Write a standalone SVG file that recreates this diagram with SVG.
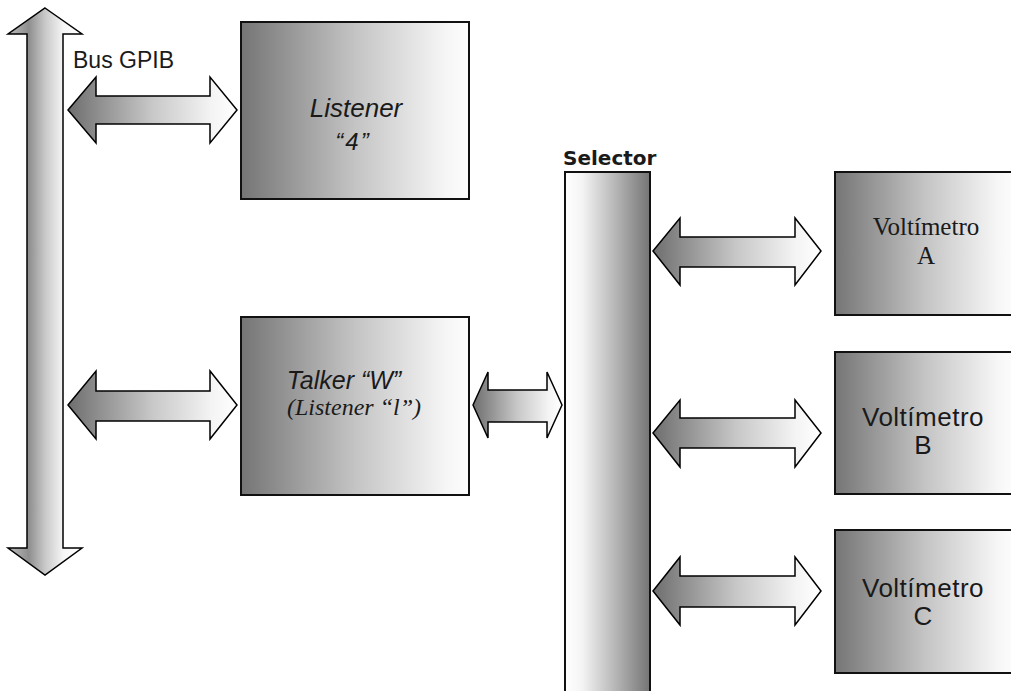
<svg xmlns="http://www.w3.org/2000/svg" width="1011" height="691" viewBox="0 0 1011 691">
<defs>
<linearGradient id="gBox" x1="0" y1="0" x2="1" y2="0">
<stop offset="0" stop-color="#757575"/>
<stop offset="0.5" stop-color="#c4c4c4"/>
<stop offset="0.9" stop-color="#f6f6f6"/>
<stop offset="1" stop-color="#fdfdfd"/>
</linearGradient>
<linearGradient id="gArrow" x1="0" y1="0" x2="1" y2="0">
<stop offset="0" stop-color="#6e6e6e"/>
<stop offset="0.5" stop-color="#c8c8c8"/>
<stop offset="0.85" stop-color="#f4f4f4"/>
<stop offset="1" stop-color="#ffffff"/>
</linearGradient>
<linearGradient id="gBus" x1="0" y1="0" x2="1" y2="0">
<stop offset="0" stop-color="#bdbdbd"/>
<stop offset="0.28" stop-color="#8e8e8e"/>
<stop offset="0.5" stop-color="#c8c8c8"/>
<stop offset="0.75" stop-color="#f6f6f6"/>
<stop offset="1" stop-color="#ffffff"/>
</linearGradient>
<linearGradient id="gSel" x1="0" y1="0" x2="1" y2="0">
<stop offset="0" stop-color="#ffffff"/>
<stop offset="0.2" stop-color="#f4f4f4"/>
<stop offset="0.55" stop-color="#bdbdbd"/>
<stop offset="1" stop-color="#747474"/>
</linearGradient>
</defs>
<style>
.box{stroke:#111;stroke-width:2}
.arr{fill:url(#gArrow);stroke:#000;stroke-width:1.5;stroke-linejoin:miter}
.sans{font-family:"Liberation Sans",Arial,sans-serif;fill:#1a1a1a}
.serif{font-family:"Liberation Serif","Times New Roman",serif;fill:#1a1a1a}
</style>
<g id="connectors">
<polygon id="bus" points="45,8 82,34 63,34 63,548 82,548 45,575 8,548 27,548 27,34 8,34" fill="url(#gBus)" stroke="#000" stroke-width="1.5"/>
<polygon class="arr" points="68,110 96,77 96,96 210,96 210,77 237,110 210,143 210,124 96,124 96,143"/>
<polygon class="arr" points="68,405 96,371 96,391 210,391 210,371 237,405 210,439 210,421 96,421 96,439"/>
<polygon class="arr" points="473,405 488,372 488,390 547,390 547,372 562,405 547,438 547,422 488,422 488,438"/>
<polygon class="arr" points="653,251 680,218 680,237 795,237 795,218 821,251 795,285 795,267 680,267 680,285"/>
<polygon class="arr" points="653,433 680,400 680,418 795,418 795,400 821,433 795,467 795,448 680,448 680,467"/>
<polygon class="arr" points="653,591 680,557 680,576 795,576 795,557 821,591 795,625 795,607 680,607 680,625"/>
</g>
<g id="bus-label"><text class="sans" x="73" y="68" font-size="23">Bus GPIB</text></g>
<g id="listener">
<rect class="box" x="241" y="22" width="228" height="177" fill="url(#gBox)"/>
<text class="sans" x="356" y="117" font-size="26" font-style="italic" text-anchor="middle">Listener</text>
<text class="sans" x="353" y="150" font-size="24" font-style="italic" text-anchor="middle" letter-spacing="2">“4”</text>
</g>
<g id="talker">
<rect class="box" x="241" y="317" width="228" height="178" fill="url(#gBox)"/>
<text class="sans" x="344" y="389" font-size="25" font-style="italic" text-anchor="middle">Talker “W”</text>
<text class="serif" x="354" y="415" font-size="24" font-style="italic" text-anchor="middle">(Listener “l”)</text>
</g>
<g id="selector">
<rect class="box" x="565" y="172" width="85" height="525" fill="url(#gSel)"/>
<text x="563" y="165" font-size="20" font-weight="bold" font-family="DejaVu Sans,sans-serif" fill="#1a1a1a">Selector</text>
</g>
<g id="voltA">
<rect class="box" x="835" y="172" width="180" height="143" fill="url(#gBox)"/>
<text class="serif" x="926" y="235" font-size="25" text-anchor="middle">Voltímetro</text>
<text class="serif" x="926" y="264" font-size="25" text-anchor="middle">A</text>
</g>
<g id="voltB">
<rect class="box" x="835" y="352" width="180" height="142" fill="url(#gBox)"/>
<text class="sans" x="923" y="426" font-size="26" letter-spacing="0.5" text-anchor="middle">Voltímetro</text>
<text class="sans" x="923" y="454" font-size="26" text-anchor="middle">B</text>
</g>
<g id="voltC">
<rect class="box" x="835" y="530" width="180" height="143" fill="url(#gBox)"/>
<text class="sans" x="923" y="597" font-size="26" letter-spacing="0.5" text-anchor="middle">Voltímetro</text>
<text class="sans" x="923" y="625" font-size="26" text-anchor="middle">C</text>
</g>
</svg>
